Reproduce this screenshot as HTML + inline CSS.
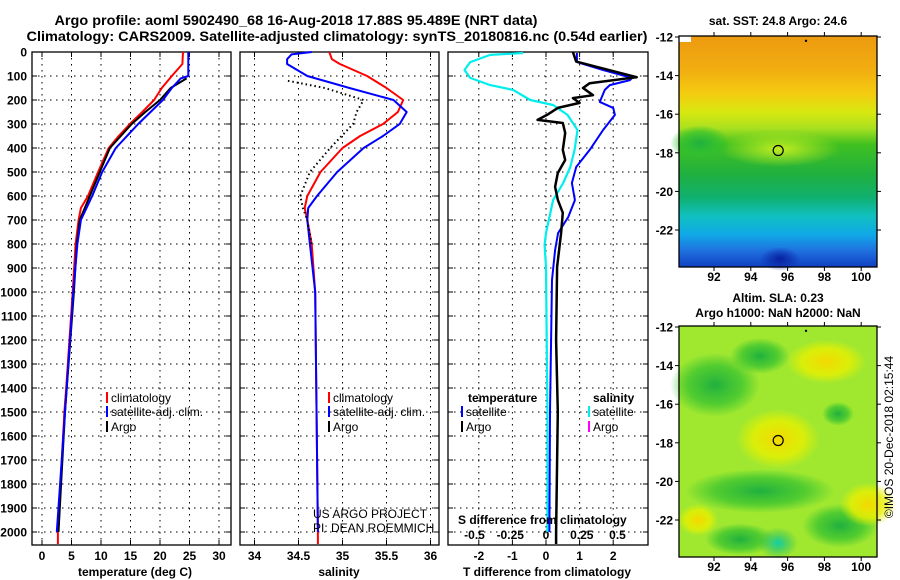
<!DOCTYPE html>
<html><head><meta charset="utf-8"><style>
body{margin:0;background:#fff;}
svg{display:block;font-family:"Liberation Sans",Arial,sans-serif;font-weight:bold;}
</style></head><body>
<svg id="s" width="900" height="580" viewBox="0 0 900 580" xmlns="http://www.w3.org/2000/svg">
<defs>
<linearGradient id="sst" x1="0" y1="0" x2="0" y2="1">
<stop offset="0" stop-color="#ec9a10"/><stop offset="0.15" stop-color="#f2ae10"/><stop offset="0.25" stop-color="#f4cc10"/>
<stop offset="0.33" stop-color="#d8e810"/><stop offset="0.4" stop-color="#a8e020"/><stop offset="0.47" stop-color="#40c020"/>
<stop offset="0.6" stop-color="#20b040"/><stop offset="0.7" stop-color="#10b070"/><stop offset="0.78" stop-color="#10c0c0"/>
<stop offset="0.86" stop-color="#10a8e8"/><stop offset="0.93" stop-color="#2070e0"/><stop offset="1" stop-color="#1040c0"/></linearGradient>
<radialGradient id="sstblob" cx="0.5" cy="0.5" r="0.5"><stop offset="0" stop-color="#c8f020" stop-opacity="0.95"/><stop offset="1" stop-color="#c8f020" stop-opacity="0"/></radialGradient>
<radialGradient id="dkblue" cx="0.5" cy="0.5" r="0.5"><stop offset="0" stop-color="#0820a0"/><stop offset="1" stop-color="#0820a0" stop-opacity="0"/></radialGradient>
<radialGradient id="yel" cx="0.5" cy="0.5" r="0.5"><stop offset="0" stop-color="#f4d800"/><stop offset="0.6" stop-color="#e8f000" stop-opacity="0.8"/><stop offset="1" stop-color="#e8f000" stop-opacity="0"/></radialGradient>
<radialGradient id="grn" cx="0.5" cy="0.5" r="0.5"><stop offset="0" stop-color="#20b040"/><stop offset="0.6" stop-color="#30c030" stop-opacity="0.7"/><stop offset="1" stop-color="#30c030" stop-opacity="0"/></radialGradient>
<radialGradient id="cyn" cx="0.5" cy="0.5" r="0.5"><stop offset="0" stop-color="#10d0a8"/><stop offset="1" stop-color="#20b050" stop-opacity="0"/></radialGradient>
</defs>
<g id="g"></g>
</svg>
<script>
// ---- data ----
const depthTicks=[0,100,200,300,400,500,600,700,800,900,1000,1100,1200,1300,1400,1500,1600,1700,1800,1900,2000];
const tempTicks=[0,5,10,15,20,25,30];
const salTicks=[34,34.5,35,35.5,36];
const salTickLabels=["34","34.5","35","35.5","36"];
const tdTicks=[-2,-1,0,1,2];
const sdTicks=[-0.5,-0.25,0,0.25,0.5];
const sdTickLabels=["-0.5","-0.25","0","0.25","0.5"];
const tClimDepth=[0,50,100,150,200,250,300,350,400,500,600,650,700,800,1000,1400,1500,2000,2050];
const tClimVal=[23.9,23.8,22,20.3,19,17,14.9,13,11.3,9.5,7.8,6.6,6.2,5.7,5.2,4.1,3.8,2.7,2.7];
const tSatDepth=[0,100,110,150,200,300,400,500,600,700,800,1000,1500,2000];
const tSatVal=[24.8,24.8,23.5,22,20.5,16.3,12.5,10.2,8.5,6.6,6,5.3,3.9,2.5];
const tArgoDepth=[110,150,200,250,300,400,500,600,700,800,1000,1500,2000];
const tArgoVal=[24.5,21.8,20,17.5,15.2,11.5,9.8,8.1,6.4,5.9,5.4,3.9,2.8];
const sClimDepth=[0,30,50,100,150,200,250,300,350,400,500,600,650,700,800,1000,2000,2050];
const sClimVal=[34.85,34.88,34.97,35.28,35.5,35.69,35.63,35.46,35.2,35.0,34.75,34.6,34.57,34.6,34.65,34.69,34.72,34.72];
const sSatDepth=[0,10,30,50,100,150,200,250,300,350,400,500,600,650,700,800,1000,2000];
const sSatVal=[34.65,34.42,34.37,34.37,34.6,35.08,35.58,35.73,35.65,35.46,35.24,34.94,34.71,34.61,34.6,34.63,34.69,34.72];
const sArgoDepth=[120,150,200,250,300,400,500,600,650,700,800];
const sArgoVal=[34.38,34.8,35.24,35.16,35.12,34.86,34.63,34.52,34.55,34.6,34.65];
const tdArgoDepth=[0,40,105,130,150,180,192,212,233,262,283,296,337,408,450,504,562,616,670,754,896,1200,1500,2000,2050];
const tdArgoVal=[0.8,0.9,2.7,1.3,1.1,1.4,0.8,1.0,0.35,0.03,-0.25,0.5,0.57,0.5,0.57,0.35,0.27,0.35,0.5,0.45,0.33,0.3,0.35,0.3,0.3];
const tdSatDepth=[4,42,75,108,117,138,158,208,233,262,325,408,479,546,617,688,754,825,950,1500,2000];
const tdSatVal=[0.92,0.92,1.7,2.56,2.5,1.9,1.75,1.6,2.0,2.05,1.7,1.3,0.9,0.77,0.86,0.66,0.36,0.27,0.18,0.12,0.1];
const sdSatDepth=[4,12,42,75,108,138,158,200,221,262,325,408,479,546,617,754,804,896,1500,2000];
const sdSatVal=[-0.16,-0.39,-0.53,-0.57,-0.53,-0.39,-0.23,-0.11,0.05,0.15,0.22,0.2,0.17,0.12,0.05,0.0,-0.01,0.0,0.01,0.01];
// ---- geometry ----
const NS="http://www.w3.org/2000/svg";
const G=document.getElementById('g');
function el(tag,attrs,parent){const e=document.createElementNS(NS,tag);for(const k in attrs)e.setAttribute(k,attrs[k]);(parent||G).appendChild(e);return e;}
function txt(x,y,s,anchor,size,parent){const t=el('text',{x:x,y:y,'text-anchor':anchor||'start','font-size':size||12},parent);t.textContent=s;return t;}
const yTop=52,bot=545;
const yD=d=>yTop+d*0.24;
const xT=v=>42+v*5.9;
const xS=v=>254.5+(v-34)*88;
const xTD=v=>546+v*33.6;
const xSD=v=>546+v*143;
const panels=[[32,231],[240,439],[448,648]];
panels.forEach((p,i)=>{
  const pg=el('g',{});
  
  
  el('rect',{x:p[0],y:yTop,width:p[1]-p[0],height:bot-yTop,fill:'#fff',stroke:'#000','stroke-width':1.3},pg);
  depthTicks.forEach(d=>{el('line',{x1:p[0],x2:p[1],y1:yD(d),y2:yD(d),stroke:'#000','stroke-width':1,'stroke-dasharray':'1.5,4.5'},pg);
    el('line',{x1:p[0],x2:p[0]+5,y1:yD(d),y2:yD(d),stroke:'#000'},pg);el('line',{x1:p[1]-5,x2:p[1],y1:yD(d),y2:yD(d),stroke:'#000'},pg);});
});
depthTicks.forEach(d=>{const t=txt(27,yD(d)+4.5,String(d),'end',12);

});
function vgrid(xs,f,lbls,ly){xs.forEach((v,i)=>{const x=f(v);
 el('line',{x1:x,x2:x,y1:yTop,y2:bot,stroke:'#000','stroke-dasharray':'1.5,4.5'});
 el('line',{x1:x,x2:x,y1:bot-5,y2:bot,stroke:'#000'});el('line',{x1:x,x2:x,y1:yTop,y2:yTop+5,stroke:'#000'});
 if(ly){const t=txt(x,ly,lbls?lbls[i]:String(v),'middle',12);
 
 }});}
vgrid(tempTicks,xT,null,560);
vgrid(salTicks,xS,salTickLabels,560);
vgrid(tdTicks,xTD,null,560);
sdTicks.forEach((v,i)=>{const t=txt(xSD(v),539,sdTickLabels[i],'middle',12);

});
function line(ds,vs,fx,color,w,name,dash){const pts=ds.map((d,i)=>fx(vs[i]).toFixed(1)+','+yD(d).toFixed(1)).join(' ');
 const a={points:pts,fill:'none',stroke:color,'stroke-width':w,'stroke-linejoin':'round'};if(dash)a['stroke-dasharray']=dash;
 const e=el('polyline',a);
 
 }
line(tClimDepth,tClimVal,xT,'#f00',2,'temp-climatology-line');
line(tArgoDepth,tArgoVal,xT,'#000',2,'temp-argo-line');
line(tSatDepth,tSatVal,xT,'#00f',2,'temp-satellite-line');
line(sClimDepth,sClimVal,xS,'#f00',2,'sal-climatology-line');
line(sSatDepth,sSatVal,xS,'#00f',2,'sal-satellite-line');
line(sArgoDepth,sArgoVal,xS,'#000',2,'sal-argo-line','1.5,3');
line(tdSatDepth,tdSatVal,xTD,'#00f',2,'tdiff-satellite-line');
line(sdSatDepth,sdSatVal,xSD,'#0ee',2.2,'sdiff-satellite-line');
line(tdArgoDepth,tdArgoVal,xTD,'#000',2.5,'tdiff-argo-line');
function leg(x,y,c,s){el('line',{x1:x,x2:x,y1:y-10,y2:y+1,stroke:c,'stroke-width':2});const t=txt(x+4,y,s,'start',12);t.setAttribute('font-weight','normal');

}
leg(107,402,'#f00','climatology');leg(107,416,'#00f','satellite-adj. clim.');leg(107,431,'#000','Argo');
leg(329,402,'#f00','climatology');leg(329,416,'#00f','satellite-adj. clim.');leg(329,431,'#000','Argo');
txt(468,402,'temperature','start',12);txt(593,402,'salinity','start',12);
leg(462,416,'#00f','satellite');leg(462,431,'#000','Argo');
leg(589,416,'#0ee','satellite');leg(589,431,'#f0f','Argo');
const u1=txt(313,518,'US ARGO PROJECT','start',12);u1.setAttribute('font-weight','normal');
const u2=txt(313,532,'PI: DEAN ROEMMICH','start',12);u2.setAttribute('font-weight','normal');
txt(458,524,'S difference from climatology','start',12);
txt(135,576,'temperature (deg C)','middle',12);
txt(339,576,'salinity','middle',12);
txt(547,576,'T difference from climatology','middle',12);
const t1=txt(296,25,'Argo profile: aoml 5902490_68 16-Aug-2018 17.88S 95.489E (NRT data)','middle',14);
t1.setAttribute('textLength','483');t1.setAttribute('lengthAdjust','spacingAndGlyphs');
const t2=txt(337,41,'Climatology: CARS2009. Satellite-adjusted climatology: synTS_20180816.nc (0.54d earlier)','middle',14);
t2.setAttribute('textLength','621');t2.setAttribute('lengthAdjust','spacingAndGlyphs');
const lonTicks=[92,94,96,98,100];
const latTicks=[-12,-14,-16,-18,-20,-22];
function map(y0,y1,lat12,lat22,id){
 const mg=el('g',{});
 
 
 const xL=v=>714+(v-92)*18.4, yL=v=>lat12+(-12-v)*(lat22-lat12)/10;
 el('rect',{x:679,y:y0,width:198,height:y1-y0,fill:id==='sst-map'?'url(#sst)':'#a0e830'},mg);
 if(id==='sst-map'){
  el('ellipse',{cx:780,cy:yL(-17.8),rx:60,ry:18,fill:'url(#sstblob)'},mg);
  el('ellipse',{cx:700,cy:yL(-17.5),rx:30,ry:18,fill:'url(#grn)'},mg);
  el('ellipse',{cx:780,cy:yL(-23.5),rx:20,ry:12,fill:'url(#dkblue)'},mg);
  el('rect',{x:679,y:y0,width:12,height:6,fill:'#fff'},mg);
 } else {
  el('ellipse',{cx:715,cy:yL(-15),rx:45,ry:32,fill:'url(#grn)'},mg);
  el('ellipse',{cx:760,cy:yL(-13.5),rx:30,ry:18,fill:'url(#grn)'},mg);
  el('ellipse',{cx:760,cy:yL(-20.5),rx:75,ry:22,fill:'url(#grn)'},mg);
  el('ellipse',{cx:840,cy:yL(-22.3),rx:38,ry:22,fill:'url(#grn)'},mg);
  el('ellipse',{cx:740,cy:yL(-23),rx:35,ry:16,fill:'url(#grn)'},mg);
  el('ellipse',{cx:838,cy:yL(-16.5),rx:16,ry:12,fill:'url(#grn)'},mg);
  el('ellipse',{cx:778,cy:yL(-17.8),rx:42,ry:30,fill:'url(#yel)'},mg);
  el('ellipse',{cx:826,cy:yL(-13.8),rx:40,ry:22,fill:'url(#yel)'},mg);
  el('ellipse',{cx:868,cy:yL(-21.2),rx:28,ry:22,fill:'url(#yel)'},mg);
  el('ellipse',{cx:698,cy:yL(-22),rx:20,ry:16,fill:'url(#yel)'},mg);
  el('ellipse',{cx:778,cy:yL(-23.2),rx:20,ry:16,fill:'url(#cyn)'},mg);
 }
 el('rect',{x:679,y:y0,width:198,height:y1-y0,fill:'none',stroke:'#000','stroke-width':1.3},mg);
 el('circle',{cx:xL(95.489),cy:yL(-17.88),r:5,fill:'none',stroke:'#000','stroke-width':1.2},mg);
 el('circle',{cx:xL(97),cy:yL(-12.2),r:1.2,fill:'#000'},mg);
 lonTicks.forEach(v=>{el('line',{x1:xL(v),x2:xL(v),y1:y0-4,y2:y0,stroke:'#000'},mg);el('line',{x1:xL(v),x2:xL(v),y1:y1,y2:y1+4,stroke:'#000'},mg);
  const t=txt(xL(v),y1+14,String(v),'middle',12,mg);
  
  });
 latTicks.forEach(v=>{el('line',{x1:675,x2:679,y1:yL(v),y2:yL(v),stroke:'#000'},mg);el('line',{x1:877,x2:881,y1:yL(v),y2:yL(v),stroke:'#000'},mg);
  const t=txt(673,yL(v)+4.5,String(v),'end',12,mg);
  
  });
}
map(36,267,37,230,'sst-map');
map(326,557,327,520,'sla-map');
txt(778,25,'sat. SST: 24.8 Argo: 24.6','middle',12);
txt(778,302,'Altim. SLA: 0.23','middle',12);
txt(778,317,'Argo h1000: NaN h2000: NaN','middle',12);
const c=txt(0,0,'©IMOS 20-Dec-2018 02:15:44','middle',12);
c.setAttribute('font-weight','normal');
c.setAttribute('transform','translate(893,437) rotate(-90)');


</script>
</body></html>
